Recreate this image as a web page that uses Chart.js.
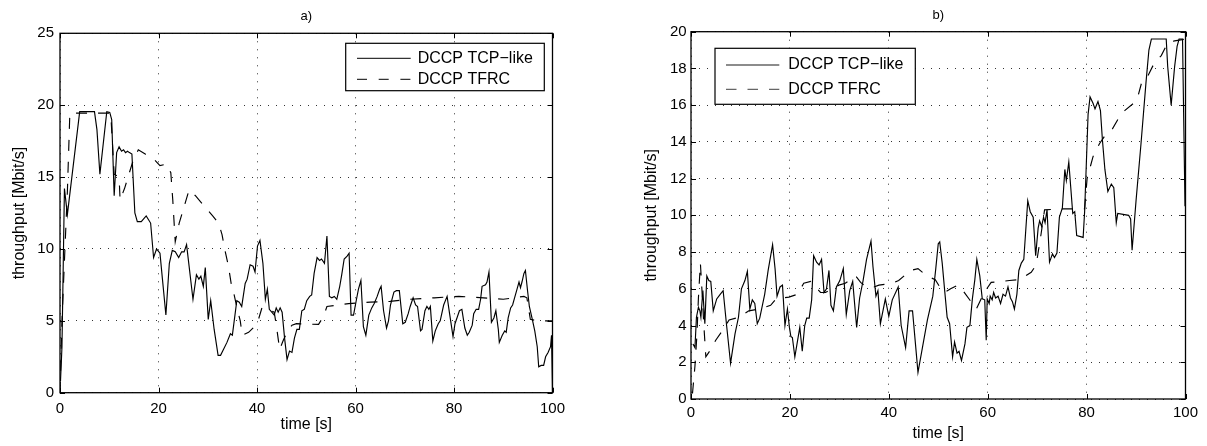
<!DOCTYPE html>
<html>
<head>
<meta charset="utf-8">
<script src="https://cdn.jsdelivr.net/npm/chart.js@4.4.1/dist/chart.umd.min.js"></script>
<style>
  html, body { margin: 0; padding: 0; background: #fff; }
  body { width: 1207px; height: 446px; position: relative; overflow: hidden; }
  canvas { position: absolute; top: 0; }
  #chartA { left: 0; }
  #chartB { left: 620px; }
</style>
</head>
<body>
<canvas id="chartA" width="600" height="446"></canvas>
<canvas id="chartB" width="587" height="446"></canvas>
<script>
// Throughput traces, [time s, Mbit/s]
const aTcpLike = [[0.1,0.8],[0.4,3.2],[0.9,14.2],[1.5,12.4],[4.0,19.55],[7.0,19.55],[7.5,18.3],[8.1,15.2],[9.5,19.55],[10.1,19.5],[10.5,19.0],[11.0,13.7],[11.5,16.7],[12.0,17.1],[12.5,16.8],[12.9,16.9],[13.3,16.7],[13.7,16.8],[14.1,16.7],[14.6,16.6],[15.2,12.5],[15.7,11.9],[16.5,11.9],[17.5,12.3],[18.4,11.8],[19.0,9.4],[19.6,10.0],[20.3,9.7],[20.8,7.9],[21.5,5.4],[22.2,9.0],[22.8,9.9],[23.4,9.8],[24.1,9.4],[24.7,9.8],[25.2,9.8],[25.7,10.3],[27.0,6.5],[27.7,8.2],[28.2,7.9],[28.6,8.1],[29.1,7.4],[29.5,8.7],[30.1,5.1],[30.6,6.4],[31.3,4.4],[32.1,2.6],[32.6,2.6],[33.9,3.5],[34.6,4.1],[35.0,4.0],[35.9,6.4],[36.4,6.3],[36.9,6.0],[37.6,7.6],[38.0,7.9],[38.6,8.9],[39.2,8.8],[39.6,8.4],[40.1,10.2],[40.6,10.6],[41.2,9.0],[41.7,6.5],[42.1,7.2],[42.5,5.8],[43.0,5.6],[43.5,5.4],[43.9,5.9],[44.3,5.6],[44.7,5.9],[45.1,5.6],[45.6,3.8],[46.1,2.3],[46.6,2.9],[47.1,2.8],[47.6,3.8],[48.1,4.4],[48.6,4.4],[49.1,5.7],[49.6,5.8],[50.1,6.4],[50.7,6.7],[51.1,6.8],[51.6,8.3],[52.2,9.4],[52.7,9.2],[53.1,9.3],[53.7,9.0],[54.2,10.9],[54.7,6.7],[55.2,6.6],[55.7,6.7],[56.2,6.5],[56.8,7.4],[57.2,8.2],[57.7,9.3],[58.3,9.5],[58.7,9.7],[59.1,5.4],[59.6,5.4],[60.2,6.5],[60.6,7.2],[61.1,7.8],[61.6,4.6],[62.1,4.0],[62.7,5.4],[63.3,5.9],[63.8,6.2],[64.4,6.7],[64.9,7.2],[65.2,7.4],[65.7,5.7],[66.3,4.5],[66.7,5.0],[67.1,6.1],[67.8,7.0],[68.3,7.1],[68.9,7.1],[69.6,4.8],[70.1,4.9],[70.7,5.5],[71.1,6.0],[71.7,6.6],[72.2,6.1],[72.6,6.0],[73.2,4.3],[73.5,4.4],[74.1,5.7],[74.5,6.0],[74.9,5.8],[75.2,6.0],[75.7,3.6],[76.2,4.3],[76.8,4.8],[77.2,5.0],[77.9,6.1],[78.6,6.7],[79.1,5.5],[79.5,4.6],[79.8,3.9],[80.2,4.8],[80.6,5.2],[81.1,5.7],[81.6,5.8],[82.2,4.5],[82.7,4.0],[83.1,4.2],[83.7,4.7],[84.0,5.5],[84.5,5.8],[85.0,5.8],[85.4,6.5],[85.7,7.4],[86.4,7.5],[86.7,7.7],[87.1,8.4],[87.6,4.9],[88.1,5.2],[88.5,5.7],[89.0,4.4],[89.2,3.5],[89.8,4.0],[90.3,4.3],[90.6,4.2],[91.0,5.2],[91.5,5.9],[91.9,6.1],[92.3,6.6],[92.8,7.2],[93.2,7.7],[93.5,7.3],[93.8,7.7],[94.2,8.3],[94.5,8.5],[94.9,7.2],[95.3,6.0],[95.9,5.1],[96.4,4.3],[96.9,3.2],[97.2,1.8],[97.7,1.9],[98.2,1.9],[98.6,2.5],[99.1,2.8],[99.6,3.2],[99.8,4.0],[100,0]];

const aTfrc = [[0,0],[0.4,5],[1.0,10],[1.5,14],[2.0,19.45],[10.3,19.45],[11.0,15.2],[12.0,15.0],[12.2,13.4],[13.1,14.2],[14.8,16.1],[15.9,16.9],[17.3,16.6],[19.2,16.2],[20.3,15.8],[21.7,15.9],[22.5,15.3],[22.9,13.4],[23.4,10.5],[24.2,11.8],[25.0,12.7],[26.2,14.1],[27.5,13.7],[29.5,12.9],[31.0,12.3],[32.2,11.8],[32.9,11.0],[33.5,9.9],[34.2,8.8],[34.8,7.5],[35.3,6.9],[36.0,5.8],[36.6,5.0],[37.0,4.0],[38.3,4.2],[39.5,4.6],[40.3,5.1],[41.0,5.9],[42.0,5.8],[43.5,5.6],[44.0,4.5],[44.6,3.0],[45.4,3.7],[46.4,4.4],[47.1,4.7],[48.0,4.8],[52.5,4.75],[53.5,5.3],[54.2,6.0],[56.6,6.1],[58.6,6.2],[63.0,6.3],[67.0,6.35],[71.0,6.5],[76.0,6.6],[81.0,6.7],[86.0,6.6],[90.0,6.5],[94.2,6.7],[94.8,6.6],[95.5,5.1],[97.0,5.0],[100,5.0]];

const bTcpLike = [[0.4,3.0],[0.8,2.8],[1.1,4.45],[1.5,5.0],[1.8,4.8],[2.0,4.45],[2.4,5.9],[2.8,4.1],[3.2,6.7],[3.6,6.45],[4.0,6.4],[4.5,4.8],[5.2,5.45],[5.9,5.7],[6.5,5.9],[7.2,4.0],[8.0,1.95],[8.9,3.55],[9.6,4.45],[10.2,6.0],[10.9,6.45],[11.4,6.95],[11.9,4.9],[12.4,5.4],[12.9,5.2],[13.4,4.1],[13.9,4.4],[14.9,5.7],[15.6,7.0],[16.5,8.4],[17.0,7.1],[17.4,5.6],[18.0,6.1],[18.5,6.2],[19.0,4.0],[19.5,4.9],[19.9,3.9],[20.2,3.4],[20.5,3.35],[21.0,2.3],[21.5,3.1],[22.0,3.9],[22.5,2.6],[23.0,4.0],[23.4,4.4],[23.9,4.4],[24.4,5.4],[24.8,7.8],[25.4,7.45],[25.9,7.3],[26.4,7.6],[26.9,5.8],[27.4,6.0],[27.9,7.0],[28.3,5.1],[28.8,4.8],[29.4,6.1],[30.1,6.45],[30.8,7.1],[31.4,4.6],[32.1,5.9],[32.7,6.4],[33.5,3.9],[34.1,5.5],[34.8,6.45],[35.5,7.6],[36.4,8.6],[36.8,7.2],[37.4,5.6],[37.8,5.9],[38.3,4.1],[39.3,5.45],[40.0,4.5],[40.7,5.4],[41.9,6.1],[42.5,4.0],[43.4,2.8],[44.1,4.8],[44.8,4.8],[45.9,1.45],[46.8,2.8],[47.8,4.3],[48.9,5.6],[49.5,7.1],[50.0,8.45],[50.3,8.55],[50.8,7.4],[51.3,5.9],[51.8,4.45],[52.3,4.1],[52.9,2.3],[53.3,3.1],[53.8,2.5],[54.2,2.6],[54.7,2.1],[55.4,3.0],[55.8,3.9],[56.4,4.0],[56.9,5.45],[57.4,6.5],[57.8,7.6],[58.4,6.7],[58.9,5.45],[59.4,5.4],[59.7,3.2],[59.9,5.45],[60.3,5.2],[60.5,5.6],[60.9,5.4],[61.2,5.8],[61.6,5.5],[62.1,5.6],[62.6,5.2],[63.1,5.7],[63.6,5.6],[64.1,6.1],[64.6,5.5],[65.0,5.3],[65.4,4.9],[65.9,5.7],[66.3,7.0],[66.8,7.4],[67.3,7.6],[67.7,9.2],[68.1,10.8],[68.6,10.2],[69.2,9.9],[69.7,7.8],[70.2,9.3],[70.5,9.7],[70.9,9.4],[71.3,9.9],[71.6,9.6],[72.0,10.3],[72.5,7.45],[73.1,7.9],[73.5,7.7],[74.0,7.95],[74.5,9.9],[75.1,10.4],[75.6,12.5],[75.9,11.9],[76.4,12.9],[76.8,11.5],[77.2,10.1],[77.6,10.2],[78.0,8.9],[79.3,8.8],[79.6,10.2],[80.3,15.5],[80.7,16.45],[81.3,16.1],[81.7,15.8],[82.3,16.2],[82.8,15.7],[83.2,14.1],[83.7,12.5],[84.3,11.3],[85.0,11.7],[85.5,11.5],[86.0,9.6],[86.3,10.1],[88.5,10.0],[88.9,9.8],[89.2,8.1],[90.0,10.8],[91.0,13.9],[92.0,17.2],[92.6,19.0],[93.1,19.6],[96.1,19.6],[96.4,18.1],[97.1,16.0],[97.8,18.1],[98.3,19.2],[98.7,19.6],[99.4,19.6],[99.9,10.5]];

const bTfrc = [[0.3,0.3],[0.8,1.8],[1.2,3.5],[1.5,5.5],[1.9,7.4],[2.2,6.0],[2.6,4.0],[3.0,2.3],[3.5,2.5],[4.0,2.7],[5.0,3.2],[6.3,3.7],[7.7,4.3],[9.7,4.45],[11.7,4.8],[13.7,4.9],[15.0,5.0],[16.1,5.1],[17.2,5.45],[19.8,5.55],[21.5,5.7],[22.8,6.3],[24.2,6.4],[25.2,6.1],[26.2,5.8],[27.2,5.8],[29.9,6.2],[31.2,6.3],[33.3,6.7],[34.3,6.35],[35.5,6.1],[37.0,6.1],[38.0,6.2],[40.7,6.3],[42.0,6.45],[44.4,7.0],[45.9,7.1],[47.7,6.7],[49.4,6.5],[50.3,6.1],[51.3,5.8],[52.5,6.0],[54.0,6.2],[55.0,5.9],[56.9,5.2],[57.7,4.9],[59.3,5.8],[60.7,6.35],[62.8,6.4],[64.4,6.45],[66.5,6.5],[68.8,6.9],[69.8,7.3],[70.8,9.0],[71.5,10.3],[75.0,10.35],[79.6,10.35],[80.1,12.0],[81.3,13.2],[82.6,13.9],[83.6,14.3],[85.2,14.7],[86.5,15.3],[87.7,15.7],[89.5,16.1],[90.4,16.5],[91.2,17.3],[92.4,17.6],[93.7,18.3],[95.1,18.7],[96.4,19.4],[97.8,19.5],[100,19.6]];

// Axis ticks
const timeTicks = [0, 20, 40, 60, 80, 100];
const aRateTicks = [0, 5, 10, 15, 20, 25];
const bRateTicks = [0, 2, 4, 6, 8, 10, 12, 14, 16, 18, 20];

const seriesNames = ['DCCP TCP\u2212like', 'DCCP TFRC'];
const FONT = '"Liberation Sans", Arial, Helvetica, sans-serif';
Chart.defaults.font.family = FONT;

// Box frame with inward tick marks, panel caption and a boxed legend
const panelDecor = {
  id: 'panelDecor',
  afterDraw(chart, args, o) {
    const { ctx, chartArea: a, scales: { x, y } } = chart;
    ctx.save();
    ctx.strokeStyle = '#000';
    ctx.lineWidth = 1;
    ctx.setLineDash([]);
    ctx.beginPath();
    x.ticks.forEach(t => {
      const px = Math.round(x.getPixelForValue(t.value)) + 0.5;
      ctx.moveTo(px, a.bottom); ctx.lineTo(px, a.bottom - o.tickLen);
      ctx.moveTo(px, a.top); ctx.lineTo(px, a.top + o.tickLen);
    });
    y.ticks.forEach(t => {
      const py = Math.round(y.getPixelForValue(t.value)) + 0.5;
      ctx.moveTo(a.left, py); ctx.lineTo(a.left + o.tickLen, py);
      ctx.moveTo(a.right, py); ctx.lineTo(a.right - o.tickLen, py);
    });
    ctx.stroke();
    ctx.lineWidth = o.frameWidth;
    ctx.strokeRect(a.left, a.top, a.right - a.left, a.bottom - a.top);

    // caption
    ctx.fillStyle = '#000';
    ctx.font = o.captionSize + 'px ' + FONT;
    ctx.textAlign = 'center';
    ctx.textBaseline = 'middle';
    ctx.fillText(o.caption, (a.left + a.right) / 2, o.captionY);

    // legend
    const L = o.legend;
    ctx.fillStyle = '#fff';
    ctx.fillRect(L.x, L.y, L.w, L.h);
    ctx.lineWidth = 1.2;
    ctx.strokeStyle = '#000';
    ctx.strokeRect(L.x, L.y, L.w, L.h);
    ctx.font = L.fontSize + 'px ' + FONT;
    ctx.textAlign = 'left';
    chart.data.datasets.forEach((ds, i) => {
      const ry = L.rows[i];
      ctx.strokeStyle = L.lineColor;
      ctx.lineWidth = L.lineWidth;
      ctx.setLineDash(ds.borderDash && ds.borderDash.length ? L.dash : []);
      ctx.beginPath();
      ctx.moveTo(L.lineX0, ry);
      ctx.lineTo(L.lineX1, ry);
      ctx.stroke();
      ctx.setLineDash([]);
      ctx.fillStyle = '#000';
      ctx.fillText(ds.label, L.textX, ry);
    });
    ctx.restore();
  }
};

const toPoints = arr => arr.map(p => ({ x: p[0], y: p[1] }));

function makePanel(id, tcp, tfrc, rateTicks, g) {
  return new Chart(document.getElementById(id), {
    type: 'line',
    data: {
      datasets: [
        { label: seriesNames[0], data: toPoints(tcp), borderColor: '#000', borderWidth: 1.15, pointRadius: 0, borderDash: [] },
        { label: seriesNames[1], data: toPoints(tfrc), borderColor: '#000', borderWidth: 1.15, pointRadius: 0, borderDash: [11, 11] }
      ]
    },
    options: {
      responsive: false,
      animation: false,
      devicePixelRatio: 1,
      layout: { padding: { left: 0, right: g.padRight, top: g.padTop, bottom: 0 } },
      plugins: {
        legend: { display: false },
        tooltip: { enabled: false },
        panelDecor: g.decor
      },
      scales: {
        x: {
          type: 'linear', min: 0, max: 100,
          afterBuildTicks: s => { s.ticks = timeTicks.map(v => ({ value: v })); },
          afterFit: s => { s.height = g.xHeight; },
          ticks: { padding: g.xTickPad, color: '#000', font: { size: 15 }, maxRotation: 0, autoSkip: false },
          grid: { color: '#333', lineWidth: 1, drawTicks: false },
          border: { display: false, dash: [1, 7] },
          title: { display: true, text: 'time [s]', color: '#000', font: { size: 16 }, padding: { top: 0, bottom: g.xTitlePad } }
        },
        y: {
          type: 'linear', min: rateTicks[0], max: rateTicks[rateTicks.length - 1],
          afterBuildTicks: s => { s.ticks = rateTicks.map(v => ({ value: v })); },
          afterFit: s => { s.width = g.yWidth; },
          ticks: { padding: g.yTickPad, color: '#000', font: { size: 15 }, autoSkip: false },
          grid: { color: '#333', lineWidth: 1, drawTicks: false },
          border: { display: false, dash: [1, 7] },
          title: { display: true, text: 'throughput [Mbit/s]', color: '#000', font: { size: 16 }, padding: { top: g.yTitlePad, bottom: 0 } }
        }
      }
    },
    plugins: [panelDecor]
  });
}

makePanel('chartA', aTcpLike, aTfrc, aRateTicks, {
  padRight: 47.5, padTop: 33.3, yWidth: 60, xHeight: 53.3,
  xTickPad: 7, yTickPad: 6, xTitlePad: 11.4, yTitlePad: 10.4,
  decor: {
    tickLen: 5, frameWidth: 1.3, caption: 'a)', captionSize: 13, captionY: 16.7,
    legend: { x: 345.7, y: 43.3, w: 198.6, h: 47.4, rows: [58.3, 79.3], lineX0: 357, lineX1: 410.7, textX: 417.7,
              fontSize: 16, lineColor: '#000', lineWidth: 1, dash: [10, 11.7] }
  }
});

makePanel('chartB', bTcpLike, bTfrc, bRateTicks, {
  padRight: 21.5, padTop: 31.7, yWidth: 71, xHeight: 47,
  xTickPad: 5.3, yTickPad: 4.3, xTitlePad: 2.4, yTitlePad: 22.4,
  decor: {
    tickLen: 5, frameWidth: 1.3, caption: 'b)', captionSize: 13, captionY: 15,
    legend: { x: 95, y: 48.3, w: 200.3, h: 56, rows: [65, 89.3], lineX0: 106, lineX1: 159.3, textX: 168.3,
              fontSize: 16, lineColor: '#666', lineWidth: 1.3, dash: [10.5, 11] }
  }
});
</script>
</body>
</html>
